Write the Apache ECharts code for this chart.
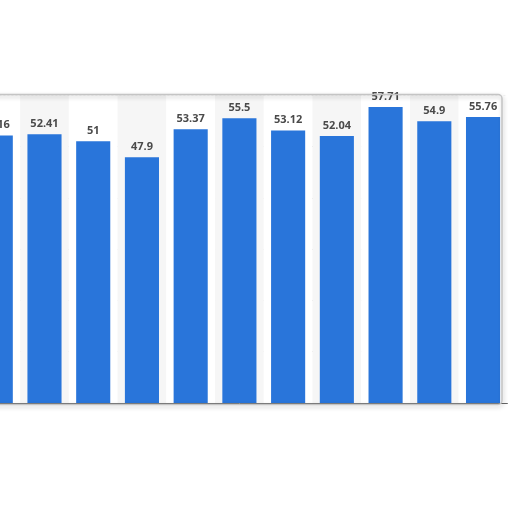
<!DOCTYPE html>
<html>
<head>
<meta charset="utf-8">
<script src="https://cdn.jsdelivr.net/npm/echarts@6/dist/echarts.min.js"></script>
<style>
html,body{margin:0;padding:0;background:#fff;overflow:hidden;width:512px;height:512px;}
#c{position:absolute;left:-29px;top:0;width:541px;height:512px;}
</style>
</head>
<body>
<div id="c"></div>
<script>
const categories = ['1','2','3','4','5','6','7','8','9','10','11'];
const values = [52.16, 52.41, 51, 47.9, 53.37, 55.5, 53.12, 52.04, 57.71, 54.9, 55.76];
const yMin = 0, yMax = 60, yInterval = 10;

const chart = echarts.init(document.getElementById('c'));
chart.setOption({
  backgroundColor: '#ffffff',
  animation: false,
  grid: { left: 0.4, right: 4.6, top: 95.2, bottom: 109, containLabel: false },
  xAxis: {
    type: 'category',
    data: categories,
    axisLabel: { show: false },
    axisTick: { show: false },
    axisLine: { show: true, lineStyle: { color: '#666', width: 1 } },
    splitArea: { show: true, areaStyle: { color: ['#ffffff', '#f6f6f6'] } }
  },
  yAxis: {
    type: 'value',
    min: yMin, max: yMax, interval: yInterval,
    axisLabel: { show: false },
    axisLine: { show: false },
    axisTick: { show: false },
    splitLine: { show: true, lineStyle: { color: '#d0d0d0', type: [2, 2], width: 1 } }
  },
  series: [{
    type: 'bar',
    data: values,
    barCategoryGap: '30%',
    itemStyle: { color: '#2975da' },
    label: {
      show: true,
      position: 'top',
      distance: 5,
      color: '#4a4a4a',
      fontFamily: 'Open Sans',
      fontWeight: 'bold',
      fontSize: 11
    }
  }],
  graphic: [{
    type: 'rect',
    z: 100,
    shape: { x: 17, y: 94.5, width: 514, height: 310, r: 4 },
    style: {
      fill: 'transparent',
      stroke: '#c4c4c4',
      lineWidth: 1.5,
      shadowBlur: 4,
      shadowColor: 'rgba(0,0,0,0.25)',
      shadowOffsetX: 1,
      shadowOffsetY: 2
    }
  }]
});
</script>
</body>
</html>
